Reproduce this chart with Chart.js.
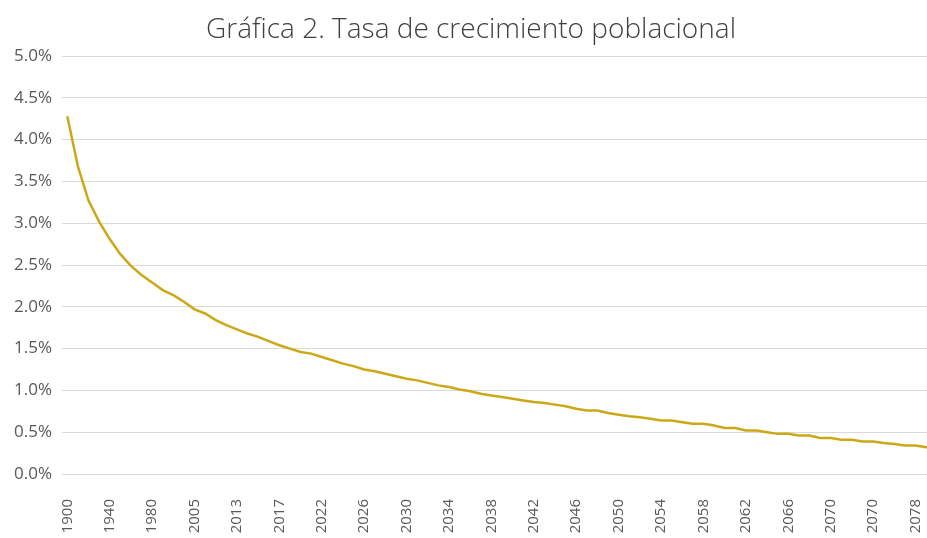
<!DOCTYPE html>
<html>
<head>
<meta charset="utf-8">
<script src="https://cdn.jsdelivr.net/npm/chart.js@4/dist/chart.umd.min.js"></script>
<style>
  html, body { margin: 0; padding: 0; background: #fff; overflow: hidden; }
  #wrap { width: 927px; height: 538px; overflow: hidden; position: relative; }
  #lineChart { position: absolute; left: 0; top: 0; }
</style>
</head>
<body>
<div id="wrap"><canvas id="lineChart" width="942" height="538"></canvas></div>
<script>
// years (index 76 reads "2070" in the source chart)
var years = [
    '1900', '1910', '1920', '1930', '1940', '1950', '1960', '1970', '1980', '1990',
    '1995', '2000', '2005', '2007', '2009', '2011', '2013', '2014', '2015', '2016',
    '2017', '2019', '2020', '2021', '2022', '2023', '2024', '2025', '2026', '2027',
    '2028', '2029', '2030', '2031', '2032', '2033', '2034', '2035', '2036', '2037',
    '2038', '2039', '2040', '2041', '2042', '2043', '2044', '2045', '2046', '2047',
    '2048', '2049', '2050', '2051', '2052', '2053', '2054', '2055', '2056', '2057',
    '2058', '2059', '2060', '2061', '2062', '2063', '2064', '2065', '2066', '2067',
    '2068', '2069', '2070', '2071', '2072', '2073', '2070', '2075', '2076', '2077',
    '2078', '2079', '2080'
];

// growth rate, percent
var tasa = [
    4.28, 3.68, 3.27, 3.02, 2.81, 2.63, 2.49, 2.38, 2.29, 2.20,
    2.14, 2.06, 1.97, 1.92, 1.84, 1.78, 1.73, 1.68, 1.64, 1.59,
    1.54, 1.50, 1.46, 1.44, 1.40, 1.36, 1.32, 1.29, 1.25, 1.23,
    1.20, 1.17, 1.14, 1.12, 1.09, 1.06, 1.04, 1.01, 0.99, 0.96,
    0.94, 0.92, 0.90, 0.88, 0.86, 0.85, 0.83, 0.81, 0.78, 0.76,
    0.76, 0.73, 0.71, 0.69, 0.68, 0.66, 0.64, 0.64, 0.62, 0.60,
    0.60, 0.58, 0.55, 0.55, 0.52, 0.52, 0.50, 0.48, 0.48, 0.46,
    0.46, 0.43, 0.43, 0.41, 0.41, 0.39, 0.39, 0.37, 0.36, 0.34,
    0.34, 0.32, 0.32
];

var labelEvery = 4;

new Chart(document.getElementById('lineChart'), {
    type: 'line',
    data: {
        labels: years,
        datasets: [{
            data: tasa,
            borderColor: '#CCA816',
            borderWidth: 2.5,
            pointRadius: 0,
            tension: 0,
            fill: false
        }]
    },
    options: {
        responsive: false,
        animation: false,
        layout: { padding: 0 },
        plugins: {
            legend: { display: false },
            tooltip: { enabled: false },
            title: {
                display: true,
                text: 'Gráfica 2. Tasa de crecimiento poblacional',
                color: '#404040',
                font: { family: 'Open Sans', size: 28, weight: '300' },
                padding: { top: 13, bottom: 9.4 }
            }
        },
        scales: {
            x: {
                offset: true,
                grid: { display: false, drawTicks: false },
                border: { display: false },
                ticks: {
                    autoSkip: false,
                    minRotation: 90,
                    maxRotation: 90,
                    padding: 25,
                    color: '#595959',
                    font: { family: 'Open Sans', size: 15 },
                    callback: function(value, index) {
                        return index % labelEvery === 0 ? this.getLabelForValue(value) : '';
                    }
                },
                afterFit: function(scale) {
                    scale.height = 64;
                    scale.paddingLeft = 0;
                    scale.paddingRight = 0;
                }
            },
            y: {
                min: 0,
                max: 5,
                grid: { color: '#d9d9d9', lineWidth: 1, drawTicks: false },
                border: { display: false },
                ticks: {
                    stepSize: 0.5,
                    padding: 10,
                    color: '#595959',
                    font: { family: 'Open Sans', size: 17 },
                    callback: function(v) { return v.toFixed(1) + '%'; }
                },
                afterFit: function(scale) { scale.width = 62; }
            }
        }
    }
});
</script>
</body>
</html>
